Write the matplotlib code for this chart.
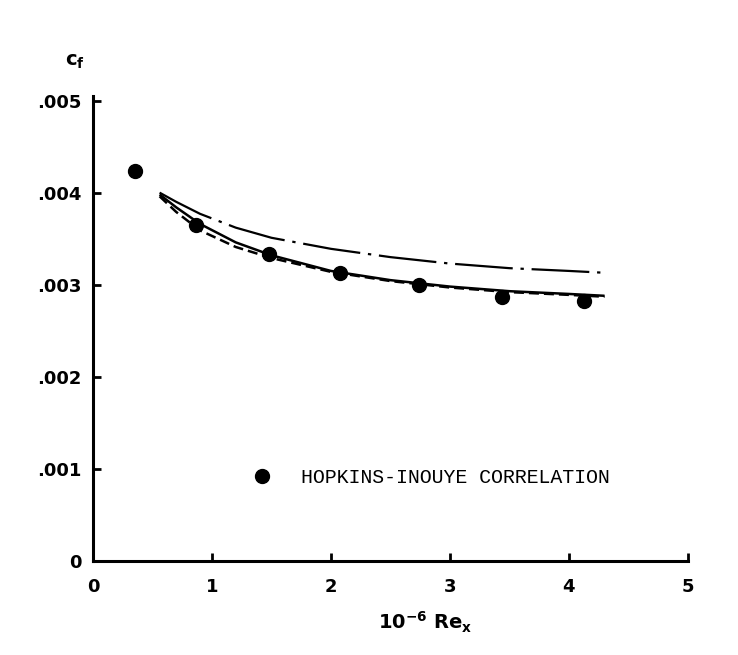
import matplotlib.pyplot as plt
from matplotlib.lines import Line2D

# Hopkins-Inouye correlation points
re_pts = [0.35, 0.87, 1.48, 2.08, 2.74, 3.44, 4.13]
cf_pts = [0.00424, 0.00365, 0.00333, 0.00313, 0.00300, 0.00287, 0.00282]

# computed skin-friction curves
re_curve = [0.56, 0.7, 0.9, 1.2, 1.5, 2.0, 2.5, 3.0, 3.5, 4.0, 4.3]
cf_solid = [0.00398, 0.00384, 0.00366, 0.00346, 0.00332, 0.00315,
            0.00305, 0.00298, 0.00293, 0.00290, 0.00288]
cf_dashed = [0.00396, 0.00379, 0.00359, 0.00341, 0.00329, 0.00314,
             0.00304, 0.00297, 0.00292, 0.00289, 0.00287]
cf_dashdot = [0.00400, 0.00390, 0.00377, 0.00362, 0.00351, 0.00339,
              0.00330, 0.00323, 0.00318, 0.00315, 0.00313]

xticks = [0, 1, 2, 3, 4, 5]
yticks = [0, 0.001, 0.002, 0.003, 0.004, 0.005]
ytick_labels = ["0", ".001", ".002", ".003", ".004", ".005"]

tick_font = {"family": "DejaVu Sans", "weight": "bold", "size": 13}

fig = plt.figure(figsize=(7.38, 6.55), dpi=100)
ax = fig.add_axes([0.126, 0.1435, 0.806, 0.71])

ax.plot(re_curve, cf_solid, color="black", lw=1.8, solid_capstyle="butt")
ax.plot(re_curve, cf_dashed, color="black", lw=1.8, ls=(0, (4, 2)))
ax.plot(re_curve, cf_dashdot, color="black", lw=1.6, ls=(0, (26, 3.5, 1.5, 3.5)))
ax.plot(re_pts, cf_pts, "o", color="black", ms=10, zorder=5)

ax.set_xlim(0, 5)
ax.set_ylim(0, 0.00505)
ax.set_xticks(xticks)
ax.set_xticklabels([str(t) for t in xticks], fontdict=tick_font)
ax.set_yticks(yticks)
ax.set_yticklabels(ytick_labels, fontdict=tick_font)

for side in ("top", "right"):
    ax.spines[side].set_visible(False)
for side in ("left", "bottom"):
    ax.spines[side].set_linewidth(2.2)

ax.tick_params(direction="in", length=6, width=2, pad=8)
ax.tick_params(axis="x", pad=12)

ax.set_xlabel(r"$\mathbf{10^{-6}\ Re_x}$", fontsize=14)
ax.xaxis.set_label_coords(0.558, -0.105)
ax.text(-0.03, 1.075, r"$\mathbf{c_f}$", transform=ax.transAxes,
        fontsize=14, ha="center", va="center")

key = Line2D([], [], ls="none", marker="o", color="black", ms=10)
ax.legend([key], ["HOPKINS-INOUYE CORRELATION"], loc="center left",
          bbox_to_anchor=(0.25, 0.18), frameon=False, borderpad=0,
          handlelength=1.0, handletextpad=1.5,
          prop={"family": "Liberation Mono", "size": 14.3})

fig.savefig("out.png", dpi=100)
